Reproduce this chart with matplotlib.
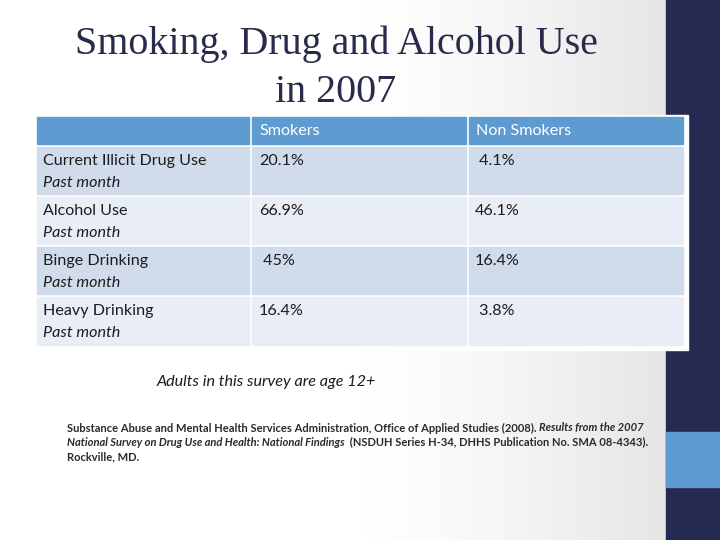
import numpy as np
import matplotlib
matplotlib.use("Agg")
import matplotlib.pyplot as plt
from matplotlib.patches import Rectangle

# table content
row_labels = ["Current Illicit Drug Use", "Alcohol Use", "Binge Drinking", "Heavy Drinking"]
row_notes = ["Past month", "Past month", "Past month", "Past month"]
col_labels = ["Smokers", "Non Smokers"]
smokers = ["20.1%", "66.9%", " 45%", "16.4%"]
non_smokers = [" 4.1%", "46.1%", "16.4%", " 3.8%"]

title_lines = ["Smoking, Drug and Alcohol Use", "in 2007"]
note = "Adults in this survey are age 12+"

navy = "#262a52"
blue = "#5e9bd1"
row_dark = "#d0dcec"
row_light = "#e9eef6"
txt = "#1c1c1c"
body_font = "Lato"
fs = 11.6

fig = plt.figure(figsize=(7.2, 5.4), dpi=100)
ax = fig.add_axes([0, 0, 1, 1])
ax.set_xlim(0, 720)
ax.set_ylim(540, 0)
ax.axis("off")

# slide background: white fading to light gray on the right
grad = np.linspace(0, 1, 300)
grad = np.clip((grad - 0.55) / 0.45, 0, 1) ** 1.3
bg = np.ones((2, 300, 3))
bg *= (1 - 0.10 * grad)[None, :, None]
ax.imshow(bg, extent=(0, 666, 540, 0), aspect="auto", zorder=0)
ax.add_patch(Rectangle((660, 0), 6, 540, color="#e6e6e6", zorder=1))
ax.add_patch(Rectangle((666, 0), 54, 540, color=navy, zorder=1))
ax.add_patch(Rectangle((666, 432), 54, 55, color=blue, zorder=1))

# title
for line, y in zip(title_lines, [44, 93]):
    ax.text(336, y, line, ha="center", va="center", fontsize=28.8,
            family="Liberation Serif", color="#282b4a", zorder=3)

# table
col_x = [37, 252, 469, 686]
row_y = [117, 147, 197, 247, 297, 348]
gap = 2.6
ax.add_patch(Rectangle((35, 115), 653, 235, color="white", zorder=2))
for c in range(3):
    x0, x1 = col_x[c], col_x[c + 1] - gap
    ax.add_patch(Rectangle((x0, row_y[0]), x1 - x0, row_y[1] - gap - row_y[0],
                           color=blue, zorder=2))
    for r in range(4):
        y0, y1 = row_y[r + 1], row_y[r + 2] - gap
        ax.add_patch(Rectangle((x0, y0), x1 - x0, y1 - y0,
                               color=row_dark if r % 2 == 0 else row_light, zorder=2))

for c, lab in enumerate(col_labels):
    ax.text(col_x[c + 1] + 7, 131, lab, ha="left", va="center", fontsize=fs,
            family=body_font, color="white", zorder=3)

for r in range(4):
    y = row_y[r + 1]
    ax.text(43, y + 14, row_labels[r], ha="left", va="center", fontsize=fs,
            family=body_font, color=txt, zorder=3)
    ax.text(43, y + 36, row_notes[r], ha="left", va="center", fontsize=fs,
            family=body_font, style="italic", color=txt, zorder=3)
    ax.text(259, y + 14, smokers[r], ha="left", va="center", fontsize=fs,
            family=body_font, color=txt, zorder=3)
    ax.text(475, y + 14, non_smokers[r], ha="left", va="center", fontsize=fs,
            family=body_font, color=txt, zorder=3)

ax.text(157, 382, note, ha="left", va="center", fontsize=fs,
        family=body_font, style="italic", color=txt, zorder=3)

# reference, with italic pieces placed one after another
ref_lines = [
    [("Substance Abuse and Mental Health Services Administration, Office of Applied Studies (2008). ", "normal"),
     ("Results from the 2007", "italic")],
    [("National Survey on Drug Use and Health: National Findings ", "italic"),
     (" (NSDUH Series H-34, DHHS Publication No. SMA 08-4343).", "normal")],
    [("Rockville, MD.", "normal")],
]
ref_y = [428, 442, 457]
fig.canvas.draw()
renderer = fig.canvas.get_renderer()
inv = ax.transData.inverted()
for pieces, y in zip(ref_lines, ref_y):
    x = 67
    for s, st in pieces:
        t = ax.text(x, y, s, ha="left", va="center", fontsize=8.0, family=body_font,
                    style=st, weight="bold", color="#2a2a2a", zorder=3)
        bb = t.get_window_extent(renderer)
        x = inv.transform((bb.x1, bb.y0))[0]

fig.savefig("out.png", dpi=100)
